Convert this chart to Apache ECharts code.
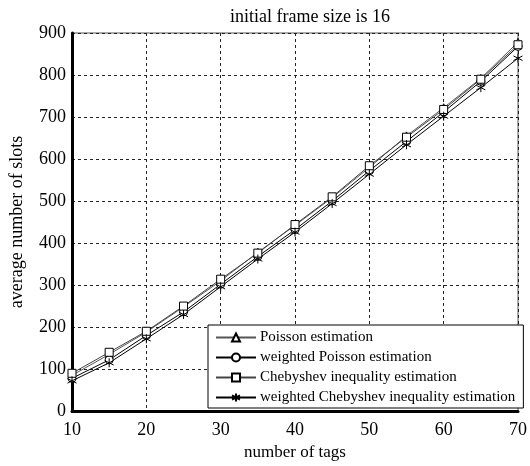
<!DOCTYPE html>
<html>
<head>
<meta charset="utf-8">
<script src="https://cdn.jsdelivr.net/npm/echarts@6/dist/echarts.min.js"></script>
<style>
  html, body { margin: 0; padding: 0; background: #fff; }
  #main { width: 530px; height: 466px; }
</style>
</head>
<body>
<div id="main"></div>
<script>
// number of tags
var tags = [10, 15, 20, 25, 30, 35, 40, 45, 50, 55, 60, 65, 70]
// average number of slots
var poisson = [85, 135, 188, 248, 310, 378, 442, 508, 580, 655, 722, 792, 878]
var weightedPoisson = [78, 122, 180, 236, 302, 368, 432, 500, 572, 642, 712, 785, 868]
var chebyshev = [90, 140, 190, 250, 314, 376, 444, 510, 584, 652, 718, 790, 872]
var weightedChebyshev = [72, 115, 172, 230, 296, 362, 426, 494, 564, 634, 702, 770, 840]

var serif = 'Liberation Serif'
var asterisk = 'path://M0,-5L0,5M-4.3,-2.5L4.3,2.5M-4.3,2.5L4.3,-2.5'

function pairs(arr) {
  var out = []
  for (var i = 0; i < tags.length; i++) {
    out.push([tags[i], arr[i]])
  }
  return out
}

function makeSeries(name, data, symbol, lineColor) {
  return {
    name: name,
    type: 'line',
    data: pairs(data),
    symbol: symbol,
    symbolSize: symbol === asterisk ? 9 : 8,
    showAllSymbol: true,
    lineStyle: { color: lineColor, width: 1 },
    itemStyle: {
      color: symbol === asterisk ? '#000' : '#fff',
      borderColor: '#000',
      borderWidth: 1
    },
    emphasis: { disabled: true }
  }
}

var chart = echarts.init(document.getElementById('main'))
chart.setOption({
  animation: false,
  title: {
    text: 'initial frame size is 16',
    left: 305,
    top: 3,
    textAlign: 'center',
    textStyle: { fontFamily: serif, fontSize: 18, fontWeight: 'normal', color: '#000' }
  },
  grid: {
    left: 72,
    right: 8,
    top: 33,
    bottom: 53,
    show: true,
    borderColor: '#aaa',
    borderWidth: 2
  },
  legend: {
    orient: 'vertical',
    left: 208,
    top: 325,
    padding: [5, 8, 3, 7],
    itemWidth: 40,
    itemHeight: 10,
    itemGap: 5,
    backgroundColor: '#fff',
    borderColor: '#000',
    borderWidth: 1,
    textStyle: { fontFamily: serif, fontSize: 15, color: '#000', padding: [0, 0, 0, -1] },
    data: ['Poisson estimation', 'weighted Poisson estimation', 'Chebyshev inequality estimation', 'weighted Chebyshev inequality estimation']
  },
  xAxis: {
    type: 'value',
    min: 10,
    max: 70,
    interval: 10,
    name: 'number of tags',
    nameLocation: 'middle',
    nameGap: 30,
    nameTextStyle: { fontFamily: serif, fontSize: 17, color: '#000' },
    axisLine: { show: true, lineStyle: { color: '#000', width: 3 } },
    axisTick: { show: false },
    axisLabel: { fontFamily: serif, fontSize: 18, color: '#000', margin: 10 },
    splitLine: { show: true, lineStyle: { color: '#222', type: [3, 3], width: 1 } }
  },
  yAxis: {
    type: 'value',
    min: 0,
    max: 900,
    interval: 100,
    name: 'average number of slots',
    nameLocation: 'middle',
    nameGap: 46,
    nameTextStyle: { fontFamily: serif, fontSize: 18, color: '#000' },
    axisLine: { show: true, lineStyle: { color: '#000', width: 3 } },
    axisTick: { show: false },
    axisLabel: { fontFamily: serif, fontSize: 18, color: '#000', margin: 6 },
    splitLine: { show: true, lineStyle: { color: '#222', type: [3, 3], width: 1 } }
  },
  series: [
    makeSeries('Poisson estimation', poisson, 'triangle', '#555'),
    makeSeries('weighted Poisson estimation', weightedPoisson, 'circle', '#000'),
    makeSeries('Chebyshev inequality estimation', chebyshev, 'rect', '#444'),
    makeSeries('weighted Chebyshev inequality estimation', weightedChebyshev, asterisk, '#000')
  ]
})
</script>
</body>
</html>
